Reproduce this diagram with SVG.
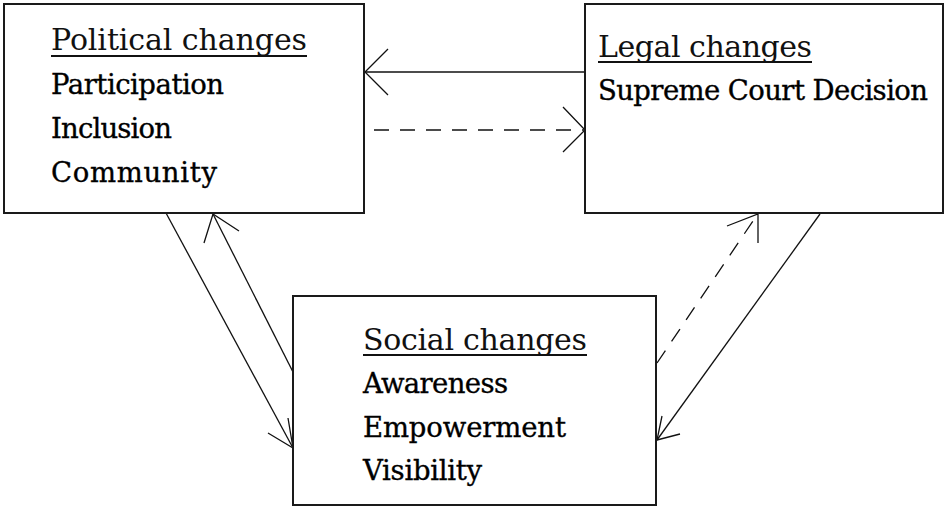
<svg xmlns="http://www.w3.org/2000/svg" width="946" height="507" viewBox="0 0 946 507">
  <style>
    .box { fill: #ffffff; stroke: #1a1a1a; stroke-width: 2; }
    .head { font-family: "DejaVu Serif", "Liberation Serif", serif; font-size: 30px; fill: #111; }
    .item { font-family: "DejaVu Serif", "Liberation Serif", serif; font-size: 27.5px; fill: #000; stroke: #000; stroke-width: 0.35; }
    .uline { stroke: #111; stroke-width: 2; }
    .edge { fill: none; stroke: #111; stroke-width: 1.3; }
    .dash { stroke-dasharray: 15 11; }
    .head-arrow { fill: none; stroke: #111; stroke-width: 1.3; stroke-linejoin: miter; }
  </style>

  <rect width="946" height="507" fill="#ffffff"/>

  <!-- connectors -->
  <g id="connectors">
    <!-- Legal to Political -->
    <line class="edge" x1="585" y1="72" x2="365" y2="72"/>
    <polyline class="head-arrow" points="388,49 365,72 388,95"/>
    <!-- Political to Legal (dashed) -->
    <line class="edge dash" x1="366" y1="130" x2="584" y2="130" stroke-dashoffset="-8"/>
    <polyline class="head-arrow" points="563,107 585,130 563,152"/>
    <!-- Political to Social -->
    <line class="edge" x1="166" y1="213" x2="293" y2="448"/>
    <polyline class="head-arrow" points="288,418 293,448 268,433"/>
    <!-- Social to Political -->
    <line class="edge" x1="293" y1="372" x2="213" y2="214"/>
    <polyline class="head-arrow" points="204,243 213,214 239,231"/>
    <!-- Legal to Social -->
    <line class="edge" x1="820" y1="214" x2="657" y2="440"/>
    <polyline class="head-arrow" points="662,416 657,440 680,434"/>
    <!-- Social to Legal (dashed) -->
    <line class="edge dash" x1="657" y1="363" x2="757" y2="215"/>
    <polyline class="head-arrow" points="727,226 758,214 758,243"/>
  </g>

  <!-- Political changes -->
  <g id="political">
    <rect class="box" x="4" y="4" width="360" height="209"/>
    <text class="head" x="51" y="50" textLength="256">Political changes</text>
    <line class="uline" x1="51" y1="56" x2="307" y2="56"/>
    <text class="item" x="51" y="94" textLength="173">Participation</text>
    <text class="item" x="51" y="138" textLength="121">Inclusion</text>
    <text class="item" x="51" y="182" textLength="166">Community</text>
  </g>

  <!-- Legal changes -->
  <g id="legal">
    <rect class="box" x="585" y="4" width="358" height="209"/>
    <text class="head" x="598" y="57" textLength="214">Legal changes</text>
    <line class="uline" x1="598" y1="62" x2="812" y2="62"/>
    <text class="item" x="598" y="100" textLength="330">Supreme Court Decision</text>
  </g>

  <!-- Social changes -->
  <g id="social">
    <rect class="box" x="293" y="296" width="363" height="209"/>
    <text class="head" x="363" y="350" textLength="224">Social changes</text>
    <line class="uline" x1="363" y1="355" x2="587" y2="355"/>
    <text class="item" x="363" y="393" textLength="145">Awareness</text>
    <text class="item" x="363" y="437" textLength="203">Empowerment</text>
    <text class="item" x="363" y="480" textLength="119">Visibility</text>
  </g>
</svg>
